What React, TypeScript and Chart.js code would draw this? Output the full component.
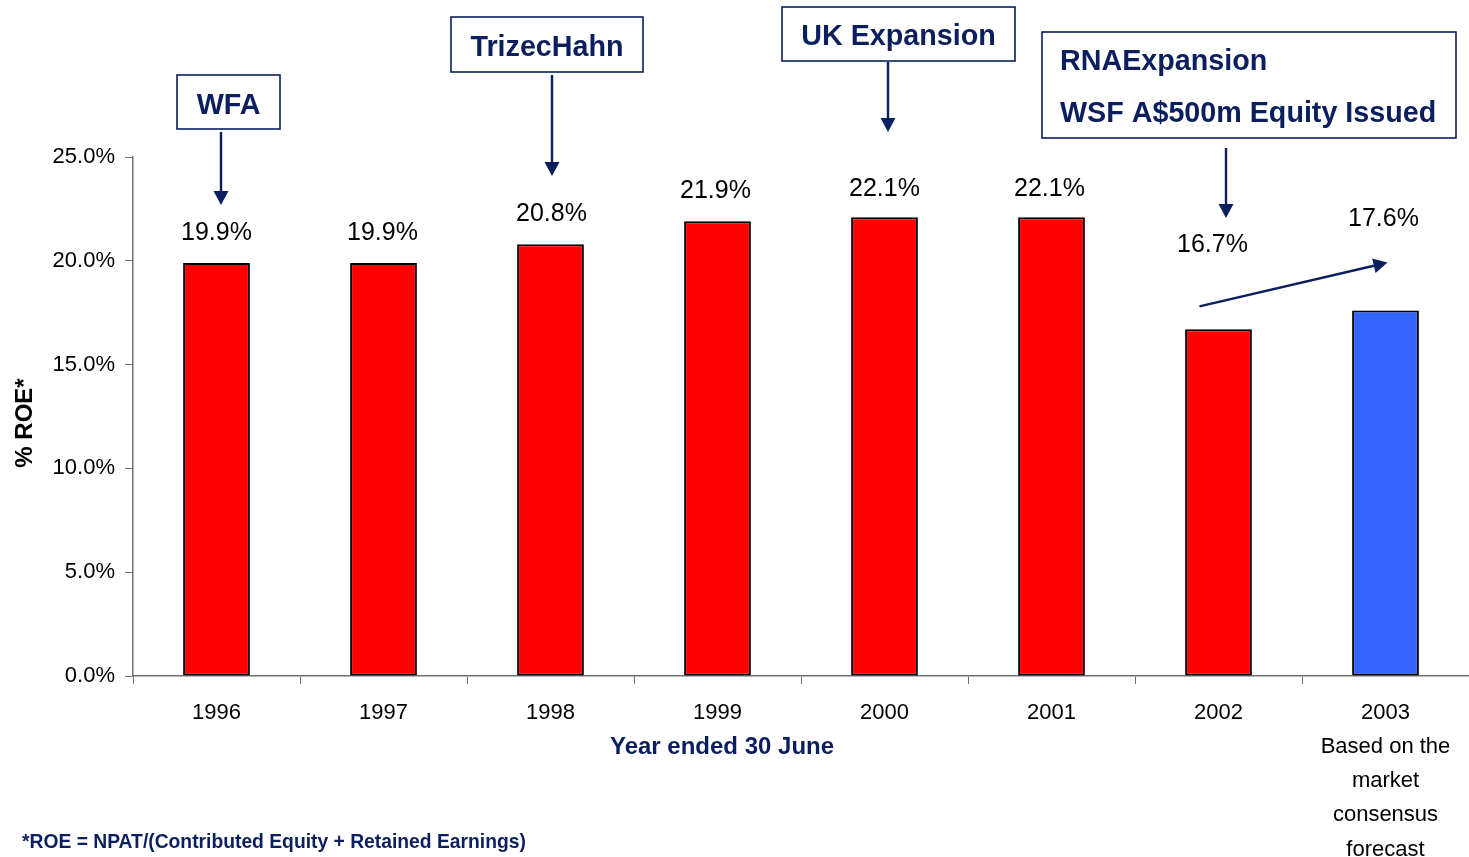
import React, { useEffect, useRef } from "react";
import { Chart, registerables } from "chart.js";

Chart.register(...registerables);

const xTickLabels: string[][] = [
  ["1996"], ["1997"], ["1998"], ["1999"], ["2000"], ["2001"], ["2002"],
  ["2003", "Based on the", "market", "consensus", "forecast"],
];
const roeValues = [19.9, 19.9, 20.8, 21.9, 22.1, 22.1, 16.7, 17.6];
const barColors = ["#ff0000", "#ff0000", "#ff0000", "#ff0000", "#ff0000", "#ff0000", "#ff0000", "#3366ff"];
const yTickValues = [0, 5, 10, 15, 20, 25];
const annotationTexts: string[][] = [
  ["WFA"],
  ["TrizecHahn"],
  ["UK Expansion"],
  ["RNAExpansion", "WSF A$500m Equity Issued"],
];
const xAxisTitle = "Year ended 30 June";
const yAxisTitle = "% ROE*";
const footnote = "*ROE = NPAT/(Contributed Equity + Retained Earnings)";

const FONT = "'Liberation Sans', Arial, Helvetica, sans-serif";
const NAVY = "#0b1f5e";

// label offsets above bar tops (px), and horizontal nudges
const labelRise = [29.5, 29.5, 30.5, 30.5, 28.5, 28.5, 84.5, 91.5];
const labelDx = [0, -1, 1, -2, 0, -2, -6, -2];

// annotation box geometry (pixels)
const boxes = [
  { x: 177, y: 75, w: 103, h: 54, align: "center", lines: [106], arrow: [221, 132, 221, 205] },
  { x: 451, y: 17, w: 192, h: 55, align: "center", lines: [48], arrow: [552, 75, 552, 176] },
  { x: 782, y: 7, w: 233, h: 54, align: "center", lines: [37], arrow: [888, 62, 888, 132] },
  { x: 1042, y: 32, w: 414, h: 106, align: "left", lines: [62, 114], arrow: [1226, 148, 1226, 218] },
];

function drawArrow(ctx: CanvasRenderingContext2D, x1: number, y1: number, x2: number, y2: number) {
  const ang = Math.atan2(y2 - y1, x2 - x1);
  const hl = 14, hw = 7.5;
  const bx = x2 - hl * Math.cos(ang);
  const by = y2 - hl * Math.sin(ang);
  ctx.save();
  ctx.strokeStyle = NAVY;
  ctx.fillStyle = NAVY;
  ctx.lineWidth = 2.4;
  ctx.beginPath();
  ctx.moveTo(x1, y1);
  ctx.lineTo(bx, by);
  ctx.stroke();
  ctx.beginPath();
  ctx.moveTo(x2, y2);
  ctx.lineTo(bx + hw * Math.sin(ang), by - hw * Math.cos(ang));
  ctx.lineTo(bx - hw * Math.sin(ang), by + hw * Math.cos(ang));
  ctx.closePath();
  ctx.fill();
  ctx.restore();
}

const overlayPlugin = {
  id: "overlay",
  afterDraw(chart: any) {
    const ctx: CanvasRenderingContext2D = chart.ctx;
    const meta = chart.getDatasetMeta(0);
    ctx.save();
    // value labels
    ctx.font = `25px ${FONT}`;
    ctx.fillStyle = "#000";
    ctx.textAlign = "center";
    ctx.textBaseline = "middle";
    meta.data.forEach((bar: any, i: number) => {
      ctx.fillText(roeValues[i].toFixed(1) + "%", bar.x + labelDx[i], bar.y - labelRise[i]);
    });

    // annotation boxes
    boxes.forEach((b, i) => {
      ctx.fillStyle = "#fff";
      ctx.fillRect(b.x, b.y, b.w, b.h);
      ctx.strokeStyle = NAVY;
      ctx.lineWidth = 1.6;
      ctx.strokeRect(b.x, b.y, b.w, b.h);
      ctx.font = `bold 28.7px ${FONT}`;
      ctx.fillStyle = NAVY;
      ctx.textBaseline = "middle";
      annotationTexts[i].forEach((t, j) => {
        if (b.align === "center") {
          ctx.textAlign = "center";
          ctx.fillText(t, b.x + b.w / 2, b.lines[j]);
        } else {
          ctx.textAlign = "left";
          ctx.fillText(t, b.x + 18, b.lines[j]);
        }
      });
      const a = b.arrow;
      drawArrow(ctx, a[0], a[1], a[2], a[3]);
    });

    // diagonal trend arrow from 2002 to 2003
    const b6 = meta.data[6], b7 = meta.data[7];
    drawArrow(ctx, b6.x - 19, b6.y - 23, b7.x + 2, b7.y - 48);

    // x-axis title
    ctx.font = `bold 24px ${FONT}`;
    ctx.fillStyle = NAVY;
    ctx.textAlign = "center";
    ctx.textBaseline = "middle";
    ctx.fillText(xAxisTitle, 722, 747);

    // footnote
    ctx.font = `bold 19.3px ${FONT}`;
    ctx.textAlign = "left";
    ctx.fillText(footnote, 22, 843);

    // y-axis title
    ctx.save();
    ctx.translate(25, 423);
    ctx.rotate(-Math.PI / 2);
    ctx.font = `bold 24px ${FONT}`;
    ctx.fillStyle = "#000";
    ctx.textAlign = "center";
    ctx.textBaseline = "middle";
    ctx.fillText(yAxisTitle, 0, 0);
    ctx.restore();

    ctx.restore();
  },
};

export default function App() {
  const ref = useRef<HTMLCanvasElement | null>(null);
  useEffect(() => {
    if (!ref.current) return;
    const chart = new Chart(ref.current, {
      type: "bar",
      data: {
        labels: xTickLabels,
        datasets: [
          {
            data: roeValues,
            backgroundColor: barColors,
            borderColor: "#000",
            borderWidth: 2,
            borderSkipped: false,
            barPercentage: 0.4,
            categoryPercentage: 1,
          },
        ],
      },
      options: {
        responsive: false,
        animation: false,
        devicePixelRatio: 1,
        layout: { padding: { top: 157, right: 0, bottom: 0, left: 0 } },
        plugins: {
          legend: { display: false },
          tooltip: { enabled: false },
          title: { display: false },
        },
        scales: {
          x: {
            offset: true,
            grid: {
              offset: true,
              drawOnChartArea: false,
              drawTicks: true,
              tickLength: 8,
              color: "#707070",
              lineWidth: 1,
            },
            border: { display: true, color: "#707070", width: 1.5 },
            ticks: {
              color: "#000",
              font: { family: FONT, size: 22, lineHeight: 1.55 },
              padding: 12,
              maxRotation: 0,
              autoSkip: false,
            },
            afterFit: (scale: any) => {
              scale.height = 181;
            },
          },
          y: {
            min: 0,
            max: 25,
            afterBuildTicks: (scale: any) => {
              scale.ticks = yTickValues.map((v) => ({ value: v }));
            },
            grid: {
              drawOnChartArea: false,
              drawTicks: true,
              tickLength: 8,
              color: "#707070",
            },
            border: { display: true, color: "#707070", width: 1.5 },
            ticks: {
              color: "#000",
              font: { family: FONT, size: 22 },
              padding: 10,
              callback: (v: any) => Number(v).toFixed(1) + "%",
            },
            afterFit: (scale: any) => {
              scale.width = 133;
            },
          },
        },
      },
      plugins: [overlayPlugin],
    });
    return () => chart.destroy();
  }, []);
  return (
    <div style={{ position: "absolute", left: 0, top: 0, width: 1469, height: 857, background: "#fff" }}>
      <canvas ref={ref} width={1469} height={857} style={{ display: "block" }} />
    </div>
  );
}
